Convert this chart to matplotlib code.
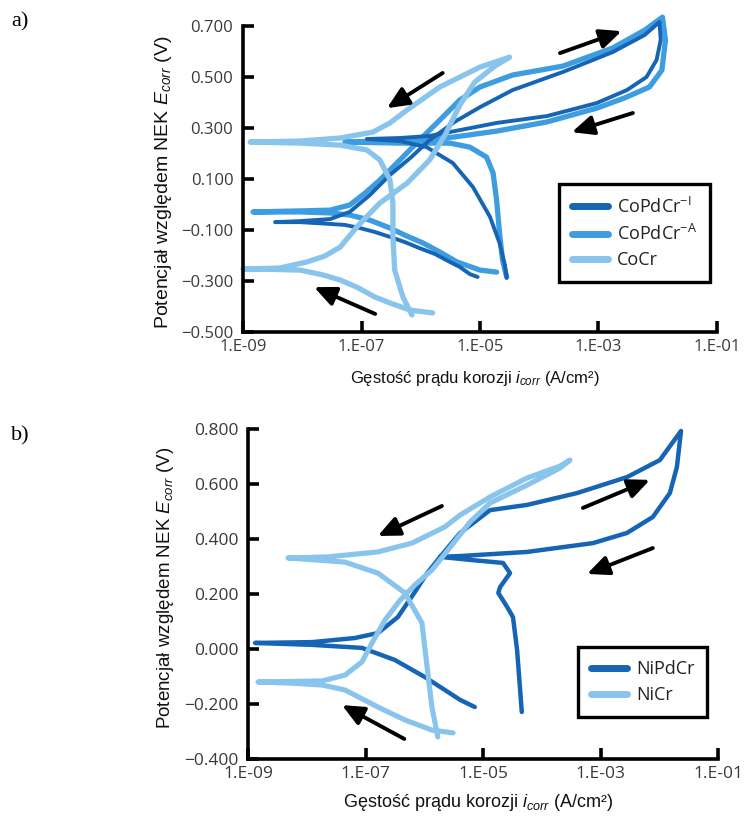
import numpy as np
import matplotlib.pyplot as plt
from matplotlib.lines import Line2D

plt.rcParams['font.family'] = ['Open Sans', 'DejaVu Sans']
plt.rcParams['mathtext.fontset'] = 'custom'
plt.rcParams['mathtext.it'] = 'Liberation Sans:italic'
plt.rcParams['mathtext.rm'] = 'Open Sans'
plt.rcParams['axes.unicode_minus'] = True

dark = '#1565b4'
medium = '#3d9de0'
light = '#88c4eb'

# log10 of current density (A/cm2) and potential (V), followed along each scan
# a) Co alloys
copdcr_i_logi = [-5.04, -5.17, -5.34, -5.51, -5.76, -6.02, -6.27, -6.52, -6.77, -7.03, -7.28, -7.53, -8.04, -8.46,
                 -8.04, -7.53, -7.20, -6.86, -6.52, -6.18, -5.85, -5.43, -5.00, -4.45, -3.60, -2.76, -2.22, -1.97,
                 -1.95, -2.02, -2.19, -2.52, -3.03, -3.87, -4.72, -5.34, -5.85, -6.35, -6.91,
                 -6.35, -5.90, -5.46, -5.12, -4.83, -4.67, -4.58, -4.55]
copdcr_i_e = [-0.284, -0.273, -0.245, -0.225, -0.194, -0.171, -0.147, -0.127, -0.108, -0.092, -0.080, -0.076, -0.069, -0.069,
              -0.065, -0.057, -0.029, 0.037, 0.116, 0.182, 0.253, 0.324, 0.382, 0.449, 0.520, 0.598, 0.665, 0.716,
              0.645, 0.567, 0.500, 0.449, 0.398, 0.347, 0.320, 0.292, 0.269, 0.261, 0.257,
              0.249, 0.225, 0.163, 0.069, -0.049, -0.151, -0.237, -0.288]

copdcr_a_logi = [-4.72, -5.00, -5.39, -5.68, -5.96, -6.27, -6.52, -6.86, -7.20, -7.53, -8.04, -8.83,
                 -8.04, -7.53, -7.20, -6.94, -6.69, -6.35, -6.02, -5.68, -5.34, -5.00, -4.45, -3.60, -2.76, -2.22, -1.92,
                 -1.87, -1.93, -2.14, -2.56, -3.03, -3.87, -4.72, -5.43, -6.02, -6.69, -7.28,
                 -6.35, -5.51, -5.17, -4.89, -4.78, -4.72, -4.67, -4.62, -4.55]
copdcr_a_e = [-0.265, -0.257, -0.225, -0.186, -0.151, -0.120, -0.092, -0.061, -0.041, -0.033, -0.029, -0.029,
              -0.025, -0.022, -0.002, 0.045, 0.096, 0.175, 0.253, 0.331, 0.410, 0.461, 0.508, 0.543, 0.614, 0.684, 0.735,
              0.645, 0.527, 0.461, 0.418, 0.378, 0.324, 0.288, 0.265, 0.253, 0.249, 0.245,
              0.241, 0.241, 0.225, 0.186, 0.124, 0.018, -0.112, -0.218, -0.284]

cocr_logi = [-5.80, -6.18, -6.52, -6.77, -7.08, -7.36, -7.65, -8.04, -8.76, -9.00,
             -8.38, -7.92, -7.62, -7.36, -7.08, -6.69, -6.23, -5.85, -5.59, -5.34, -5.09, -4.75, -4.50,
             -5.00, -5.68, -6.23, -6.52, -6.81, -7.36, -8.04, -8.88,
             -8.04, -7.36, -6.91, -6.69, -6.52, -6.47, -6.47, -6.44, -6.30, -6.15]
cocr_e = [-0.425, -0.414, -0.386, -0.363, -0.324, -0.296, -0.276, -0.257, -0.253, -0.253,
          -0.249, -0.225, -0.202, -0.167, -0.088, 0.006, 0.084, 0.175, 0.273, 0.390, 0.480, 0.543, 0.578,
          0.539, 0.461, 0.371, 0.320, 0.284, 0.261, 0.249, 0.245,
          0.241, 0.233, 0.214, 0.175, 0.096, 0.006, -0.127, -0.257, -0.363, -0.433]

# b) Ni alloys
nipdcr_logi = [-5.14, -5.39, -5.65, -5.99, -6.50, -7.06, -7.91, -8.88,
               -7.91, -7.18, -6.79, -6.45, -6.17, -5.95, -5.73, -5.39, -4.88, -4.25, -3.40, -2.55, -1.99, -1.63,
               -1.70, -1.82, -2.11, -2.55, -3.13, -4.25, -5.39, -5.73,
               -5.22, -4.66, -4.54, -4.71, -4.74, -4.59, -4.49, -4.42, -4.34]
nipdcr_e = [-0.211, -0.185, -0.149, -0.102, -0.040, 0.004, 0.015, 0.022,
            0.025, 0.040, 0.058, 0.116, 0.204, 0.276, 0.335, 0.422, 0.505, 0.524, 0.567, 0.625, 0.687, 0.793,
            0.662, 0.567, 0.480, 0.422, 0.385, 0.353, 0.338, 0.335,
            0.324, 0.313, 0.276, 0.225, 0.204, 0.153, 0.116, -0.004, -0.229]

nicr_logi = [-5.51, -5.87, -6.33, -6.79, -7.35, -7.74, -8.29, -8.83,
             -7.74, -7.35, -7.06, -6.89, -6.67, -6.41, -6.16, -5.87, -5.53, -5.22, -4.88, -4.25, -3.69, -3.52,
             -3.69, -4.25, -4.88, -5.39, -5.65, -6.21, -6.79, -7.64, -8.32,
             -7.35, -6.79, -6.33, -6.04, -5.94, -5.87, -5.77]
nicr_e = [-0.305, -0.295, -0.258, -0.211, -0.149, -0.131, -0.124, -0.120,
          -0.116, -0.095, -0.047, 0.022, 0.105, 0.178, 0.233, 0.287, 0.378, 0.462, 0.531, 0.596, 0.658, 0.687,
          0.665, 0.622, 0.553, 0.487, 0.444, 0.385, 0.353, 0.335, 0.331,
          0.316, 0.276, 0.204, 0.095, -0.087, -0.211, -0.320]

# scan direction arrows: (tail, head) as (log10 i, E)
arrows_a = [((-3.65, 0.594), (-2.61, 0.680)),
            ((-2.42, 0.359), (-3.45, 0.284)),
            ((-5.63, 0.516), (-6.57, 0.378)),
            ((-6.77, -0.429), (-7.80, -0.324))]
arrows_b = [((-5.70, 0.520), (-6.79, 0.411)),
            ((-3.30, 0.513), (-2.16, 0.615)),
            ((-2.11, 0.367), (-3.23, 0.273)),
            ((-6.34, -0.327), (-7.40, -0.204))]

x_ticks = [1e-9, 1e-7, 1e-5, 1e-3, 1e-1]
x_ticklabels = ['1.E-09', '1.E-07', '1.E-05', '1.E-03', '1.E-01']
yticks_a = [-0.5, -0.3, -0.1, 0.1, 0.3, 0.5, 0.7]
yticks_b = [-0.4, -0.2, 0.0, 0.2, 0.4, 0.6, 0.8]

labels_a = [r'CoPdCr$^{\mathrm{-I}}$', r'CoPdCr$^{\mathrm{-A}}$', 'CoCr']
labels_b = ['NiPdCr', 'NiCr']

ylabel = r'Potencjał względem NEK $E_{corr}$ (V)'
xlabel = r'Gęstość prądu korozji $i_{corr}$ (A/cm²)'


def style_axes(ax, yticks, size):
    ax.set_xscale('log')
    ax.set_xlim(1e-9, 1e-1)
    ax.set_ylim(yticks[0], yticks[-1])
    ax.set_xticks(x_ticks)
    ax.set_xticklabels(x_ticklabels)
    ax.xaxis.set_minor_locator(plt.NullLocator())
    ax.set_yticks(yticks)
    ax.set_yticklabels([('%.3f' % v).replace('-', '\u2212') for v in yticks])
    for s in ['top', 'right']:
        ax.spines[s].set_visible(False)
    for s in ['left', 'bottom']:
        ax.spines[s].set_linewidth(2.6)
    ax.tick_params(direction='in', length=8, width=2.6, labelsize=size, labelcolor='#3a3a3a')
    ax.tick_params(axis='y', pad=7)
    ax.tick_params(axis='x', pad=5)


def draw_arrows(ax, arrows):
    for tail, head in arrows:
        ax.annotate('', xy=(10**head[0], head[1]), xytext=(10**tail[0], tail[1]),
                    arrowprops=dict(arrowstyle='-|>,head_length=1.0,head_width=0.45', mutation_scale=13,
                                    lw=2.8, color='black', shrinkA=0, shrinkB=0), annotation_clip=False)


def curve(ax, logi, e, color, lw):
    ax.plot(10**np.array(logi), e, color=color, lw=lw, solid_capstyle='round',
            solid_joinstyle='round', clip_on=False)


fig = plt.figure(figsize=(7.45, 8.17), dpi=100)
ax1 = fig.add_axes([0.3262, 0.5936, 0.6362, 0.3745])
ax2 = fig.add_axes([0.3329, 0.0710, 0.6309, 0.4039])

# a)
curve(ax1, copdcr_a_logi, copdcr_a_e, medium, 3.8)
curve(ax1, copdcr_i_logi, copdcr_i_e, dark, 2.8)
curve(ax1, cocr_logi, cocr_e, light, 3.8)
style_axes(ax1, yticks_a, 12)
draw_arrows(ax1, arrows_a)

h = [Line2D([], [], color=c, lw=5, solid_capstyle='round') for c in [dark, medium, light]]
leg = ax1.legend(h, labels_a, loc='center', bbox_to_anchor=(0.826, 0.324), fancybox=False,
                 fontsize=13, handlelength=2.0, handletextpad=0.5, labelspacing=0.4, borderpad=0.7,
                 framealpha=1)
leg.get_frame().set_edgecolor('black')
leg.get_frame().set_linewidth(2.4)
for t in leg.get_texts():
    t.set_color('#222222')

ax1.set_xlabel(xlabel, fontsize=12, family='Liberation Sans', color='#111111')
ax1.xaxis.set_label_coords(0.49, -0.12)
fig.text(163 / 745, 1 - 182 / 817, ylabel, rotation=90, ha='center', va='center',
         fontsize=14, family='Liberation Sans', color='#111111')

# b)
curve(ax2, nipdcr_logi, nipdcr_e, dark, 3.2)
curve(ax2, nicr_logi, nicr_e, light, 3.7)
style_axes(ax2, yticks_b, 12.5)
draw_arrows(ax2, arrows_b)

h = [Line2D([], [], color=c, lw=5, solid_capstyle='round') for c in [dark, light]]
leg = ax2.legend(h, labels_b, loc='center', bbox_to_anchor=(0.840, 0.233), fancybox=False,
                 fontsize=13, handlelength=2.0, handletextpad=0.5, labelspacing=0.45, borderpad=0.7,
                 framealpha=1)
leg.get_frame().set_edgecolor('black')
leg.get_frame().set_linewidth(2.4)
for t in leg.get_texts():
    t.set_color('#222222')

ax2.set_xlabel(xlabel, fontsize=13, family='Liberation Sans', color='#111111')
ax2.xaxis.set_label_coords(0.49, -0.10)
fig.text(165 / 745, 1 - 588 / 817, ylabel, rotation=90, ha='center', va='center',
         fontsize=13.5, family='Liberation Sans', color='#111111')

fig.text(20 / 745, 1 - 22 / 817, 'a)', ha='center', va='center', fontsize=16, family='Liberation Serif')
fig.text(20 / 745, 1 - 436 / 817, 'b)', ha='center', va='center', fontsize=16, family='Liberation Serif')

plt.savefig('out.png', dpi=100)
